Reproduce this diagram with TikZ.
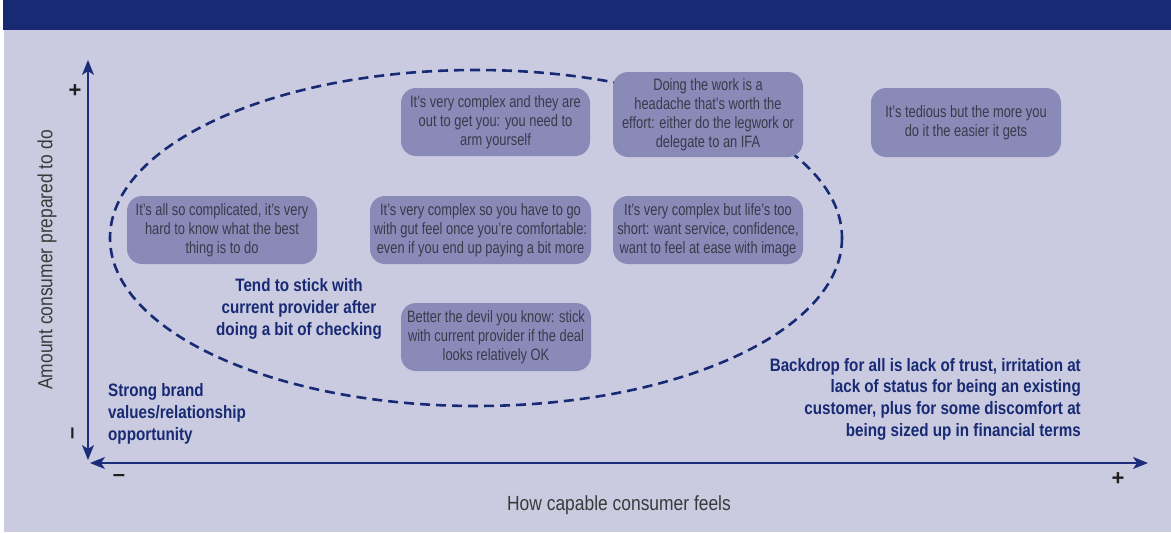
\documentclass[tikz,border=0pt]{standalone}
\usepackage{fontspec}
\setmainfont{Liberation Sans}[FakeStretch=0.78]
\newfontfamily\notefont{Liberation Sans}[FakeStretch=0.845]
\newfontfamily\labelfont{Liberation Sans}[FakeStretch=0.85]
\newfontfamily\signfont{Liberation Sans}
\usetikzlibrary{arrows.meta}
\definecolor{navy}{HTML}{172A73}
\definecolor{axisblue}{HTML}{1B2C7A}
\definecolor{panel}{HTML}{CACBE0}
\definecolor{boxfill}{HTML}{898AB8}
\definecolor{boxtext}{HTML}{3A3A4A}
\definecolor{signcol}{HTML}{231F20}
\definecolor{labelgray}{HTML}{3A3A3A}
\tikzset{
  quote/.style={fill=boxfill, rounded corners=15pt, align=center, inner sep=0pt,
    text=boxtext, font=\fontsize{16.5}{19}\selectfont,
    minimum width=190pt, minimum height=68pt},
  note/.style={text=navy, font=\notefont\bfseries\fontsize{18}{21.7}\selectfont, inner sep=0pt},
  sign/.style={text=signcol, font=\signfont\bfseries\fontsize{22}{22}\selectfont, inner sep=0pt},
  axisline/.style={draw=axisblue, line width=1.4pt,
    {Stealth[length=15pt,width=12pt,inset=4pt]}-{Stealth[length=15pt,width=12pt,inset=4pt]}},
  axislabel/.style={text=labelgray, font=\labelfont\fontsize{20.5}{24}\selectfont, inner sep=0pt},
  zone/.style={draw=navy, line width=2.6pt, dash pattern=on 10pt off 6pt}
}
\begin{document}
\begin{tikzpicture}[x=1pt, y=-1pt]
  \useasboundingbox (0,0) rectangle (1171,533);
  % header band and panel
  \fill[navy] (3,0) rectangle (1171,30);
  \fill[panel] (4,30) rectangle (1171,532);

  % dashed zone
  \draw[zone] (476,238) ellipse [x radius=366, y radius=168];

  % axes
  \coordinate (ytop) at (88,60);
  \coordinate (ybot) at (88,460);
  \coordinate (xleft) at (90,463);
  \coordinate (xright) at (1148,463);
  \draw[axisline] (ybot) -- (ytop);
  \draw[axisline] (xleft) -- (xright);

  \node[sign] (yplus) at (75,91) {+};
  \node[sign] (yminus) at (75,433) {\rotatebox{90}{–}};
  \node[sign] (xminus) at (119,478) {–};
  \node[sign] (xplus) at (1118,479) {+};

  \node[axislabel, rotate=90] (ylab) at (47,260) {Amount consumer prepared to do};
  \node[axislabel] (xlab) at (619,505) {How capable consumer feels};

  % statements
  \node[quote, minimum width=189pt] (armed) at (495.5,122)
    {It’s very complex and they are\\out to get you: you need to\\arm yourself};
  \node[quote, minimum height=85pt] (headache) at (708,114.5)
    {Doing the work is a\\headache that’s worth the\\effort: either do the legwork or\\delegate to an IFA};
  \node[quote, minimum height=69pt] (tedious) at (966,122.5)
    {It’s tedious but the more you\\do it the easier it gets};
  \node[quote] (complicated) at (222,230)
    {It’s all so complicated, it’s very\\hard to know what the best\\thing is to do};
  \node[quote, minimum width=221pt] (gutfeel) at (480.5,230)
    {It’s very complex so you have to go\\with gut feel once you’re comfortable:\\even if you end up paying a bit more};
  \node[quote] (lifeshort) at (708,230)
    {It’s very complex but life’s too\\short: want service, confidence,\\want to feel at ease with image};
  \node[quote] (devil) at (496,337)
    {Better the devil you know: stick\\with current provider if the deal\\looks relatively OK};

  % bold notes
  \node[note, align=center] (stick) at (299,309)
    {Tend to stick with\\current provider after\\doing a bit of checking};
  \node[note, align=left, anchor=west] (brand) at (108,414)
    {Strong brand\\values/relationship\\opportunity};
  \node[note, align=right, anchor=east] (backdrop) at (1081,399)
    {Backdrop for all is lack of trust, irritation at\\lack of status for being an existing\\customer, plus for some discomfort at\\being sized up in financial terms};
\end{tikzpicture}
\end{document}
